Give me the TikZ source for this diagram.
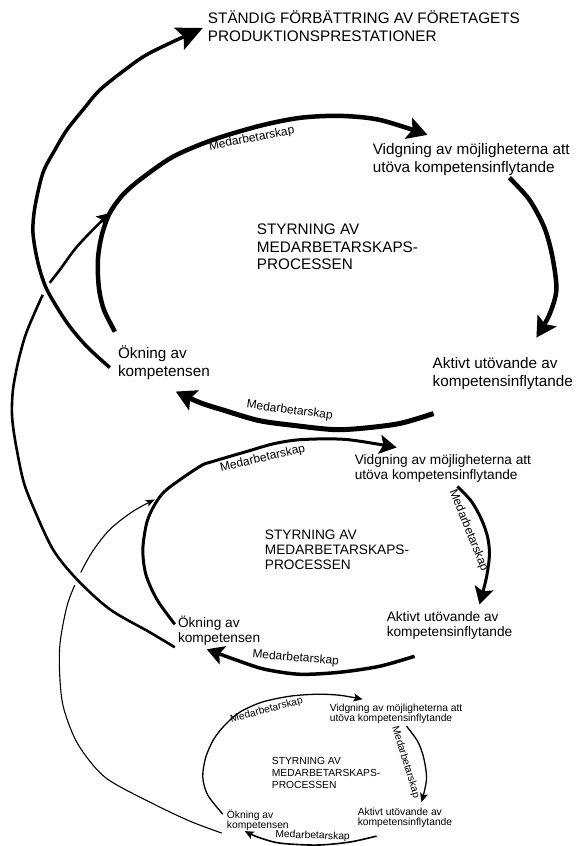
\documentclass[tikz,border=0pt]{standalone}
\usepackage{fontspec}
\setmainfont{Liberation Sans}
\usetikzlibrary{arrows.meta}
\newcommand{\mylines}[1]{\begin{tabular}[t]{@{}l@{}}#1\end{tabular}}
\begin{document}
\begin{tikzpicture}[x=1pt,y=-1pt,
  tA/.style={anchor=base west,inner sep=0pt,font=\fontsize{15.3}{17.5}\selectfont},
  tB/.style={anchor=base west,inner sep=0pt,font=\fontsize{13.7}{15}\selectfont},
  tC/.style={anchor=base west,inner sep=0pt,font=\fontsize{10.3}{10}\selectfont},
  tCc/.style={anchor=base west,inner sep=0pt,font=\fontsize{10.3}{12}\selectfont},
  labA/.style={inner sep=0pt,font=\fontsize{12}{14}\selectfont},
  labC/.style={inner sep=0pt,font=\fontsize{10.3}{12}\selectfont},
  loopA/.style={line width=4.5pt,-{Stealth[length=20pt,width=22pt,inset=4pt]}},
  loopB/.style={line width=3pt,-{Stealth[length=17pt,width=19pt,inset=3.5pt]}},
  loopC/.style={line width=1.3pt,-{Stealth[length=9pt,width=8pt,inset=2pt]}},
  linkA/.style={line width=3.5pt,-{Stealth[length=26pt,width=24pt,inset=5pt]}},
  linkB/.style={line width=2.6pt,-{Stealth[length=15pt,width=13pt,inset=3pt]}},
  linkC/.style={line width=1.1pt,-{Stealth[length=9pt,width=7pt,inset=2pt]}},
  gap/.style={fill=white}
]
\fill[white] (0,0) rectangle (577,846);

% ---------- texts ----------
\node[tA] (title) at (208,24) {\mylines{STÄNDIG FÖRBÄTTRING AV FÖRETAGETS\\PRODUKTIONSPRESTATIONER}};

\node[tA] (vid1) at (373,155) {\mylines{Vidgning av möjligheterna att\\utöva kompetensinflytande}};
\node[tA] (akt1) at (433,369) {\mylines{Aktivt utövande av\\kompetensinflytande}};
\node[tA] (okn1) at (118,359) {\mylines{Ökning av\\kompetensen}};
\node[tA] (cen1) at (257,235) {\mylines{STYRNING AV\\MEDARBETARSKAPS-\\PROCESSEN}};

\node[tB] (vid2) at (355,465) {\mylines{Vidgning av möjligheterna att\\utöva kompetensinflytande}};
\node[tB] (akt2) at (387,622) {\mylines{Aktivt utövande av\\kompetensinflytande}};
\node[tB] (okn2) at (178,628) {\mylines{Ökning av\\kompetensen}};
\node[tB] (cen2) at (265,540) {\mylines{STYRNING AV\\MEDARBETARSKAPS-\\PROCESSEN}};

\node[tC] (vid3) at (330,712) {\mylines{Vidgning av möjligheterna att\\utöva kompetensinflytande}};
\node[tC] (akt3) at (358,816) {\mylines{Aktivt utövande av\\kompetensinflytande}};
\node[tC] (okn3) at (227,819) {\mylines{Ökning av\\kompetensen}};
\node[tCc] (cen3) at (272,765) {\mylines{STYRNING AV\\MEDARBETARSKAPS-\\PROCESSEN}};

% ---------- labels ----------
\node[labA,rotate=11] (m1a) at (252,139) {Medarbetarskap};
\node[labA,rotate=-7.5] (m1c) at (290,411) {Medarbetarskap};
\node[labA,rotate=13] (m2a) at (263,459) {Medarbetarskap};
\node[labA,rotate=-68] (m2b) at (469,531) {Medarbetarskap};
\node[labA,rotate=-4.6] (m2c) at (296,659) {Medarbetarskap};
\node[labC,rotate=15] (m3a) at (267,711) {Medarbetarskap};
\node[labC,rotate=-73] (m3b) at (406,763) {Medarbetarskap};
\node[labC,rotate=-2] (m3c) at (313,837) {Medarbetarskap};

% ---------- arc end points ----------
\coordinate (t1s) at (115,332); \coordinate (t1e) at (428,135);
\coordinate (t2s) at (510,178); \coordinate (t2e) at (537,338);
\coordinate (t3s) at (434,414); \coordinate (t3e) at (176,392);
\coordinate (m1s) at (175,625); \coordinate (m1e) at (397,448);
\coordinate (m2s) at (458,487); \coordinate (m2e) at (480,605);
\coordinate (m3s) at (415,657); \coordinate (m3e) at (207,650);
\coordinate (s1s) at (223,815); \coordinate (s1e) at (363,700);
\coordinate (s2s) at (407,727); \coordinate (s2e) at (422,803);
\coordinate (s3s) at (377,837); \coordinate (s3e) at (245,832);
\coordinate (as) at (110,368); \coordinate (ae) at (203,28);
\coordinate (bs) at (175,648); \coordinate (be) at (112,213);
\coordinate (cs) at (222,834); \coordinate (ce) at (155,500);

% ---------- top loop ----------
\draw[loopA] plot[smooth] coordinates {(t1s) (104,310) (99,288) (98,260) (102,235) (110,213) (123,195) (140,180) (173,157) (213,140) (260,126) (300,118) (340,116) (380,120) (t1e)};
\draw[loopA] plot[smooth] coordinates {(t2s) (530,200) (545,228) (553,257) (557,290) (550,315) (t2e)};
\draw[loopA,line width=5pt] plot[smooth] coordinates {(t3s) (400,424) (360,429) (333,430) (295,426) (259,421) (225,411) (200,403) (t3e)};

% ---------- middle loop ----------
\draw[loopB] plot[smooth] coordinates {(m1s) (157,600) (146,575) (143,550) (147,523) (155,505) (167,490) (200,467) (213,462) (247,452) (275,444) (303,440) (347,440) (m1e)};
\draw[loopB] plot[smooth] coordinates {(m2s) (472,502) (482,520) (488,537) (490,555) (487,578) (m2e)};
\draw[loopB,line width=3.5pt] plot[smooth] coordinates {(m3s) (380,667) (340,673) (300,675) (265,670) (240,662) (m3e)};

% ---------- bottom loop ----------
\draw[loopC] plot[smooth] coordinates {(s1s) (208,796) (203,778) (206,758) (214,740) (225,726) (240,713) (262,703) (290,697) (317,695) (340,696) (s1e)};
\draw[loopC] plot[smooth] coordinates {(s2s) (418,742) (424,758) (427,780) (s2e)};
\draw[loopC,line width=1.6pt] plot[smooth] coordinates {(s3s) (350,843) (317,846) (280,844) (258,838) (s3e)};

% ---------- links between loops ----------
\draw[linkC] plot[smooth] coordinates {(cs) (190,822) (150,803) (105,778) (78,745) (64,710) (60,680) (60,645) (67,607) (77,581) (92,553) (110,530) (133,512) (ce)};
\fill[gap] (77,579) circle (7);
\draw[linkB] plot[smooth] coordinates {(bs) (150,633) (110,610) (77,580) (53,550) (33,507) (23,480) (15,440) (12,415) (13,390) (18,363) (25,337) (33,317) (46,289) (60,270) (77,247) (100,223) (be)};
\fill[gap] (46,289) circle (7);
\draw[linkA] plot[smooth] coordinates {(as) (87,347) (67,323) (47,290) (38,263) (33,233) (35,207) (43,173) (55,150) (67,130) (83,110) (100,90) (125,70) (150,53) (ae)};
\end{tikzpicture}
\end{document}
